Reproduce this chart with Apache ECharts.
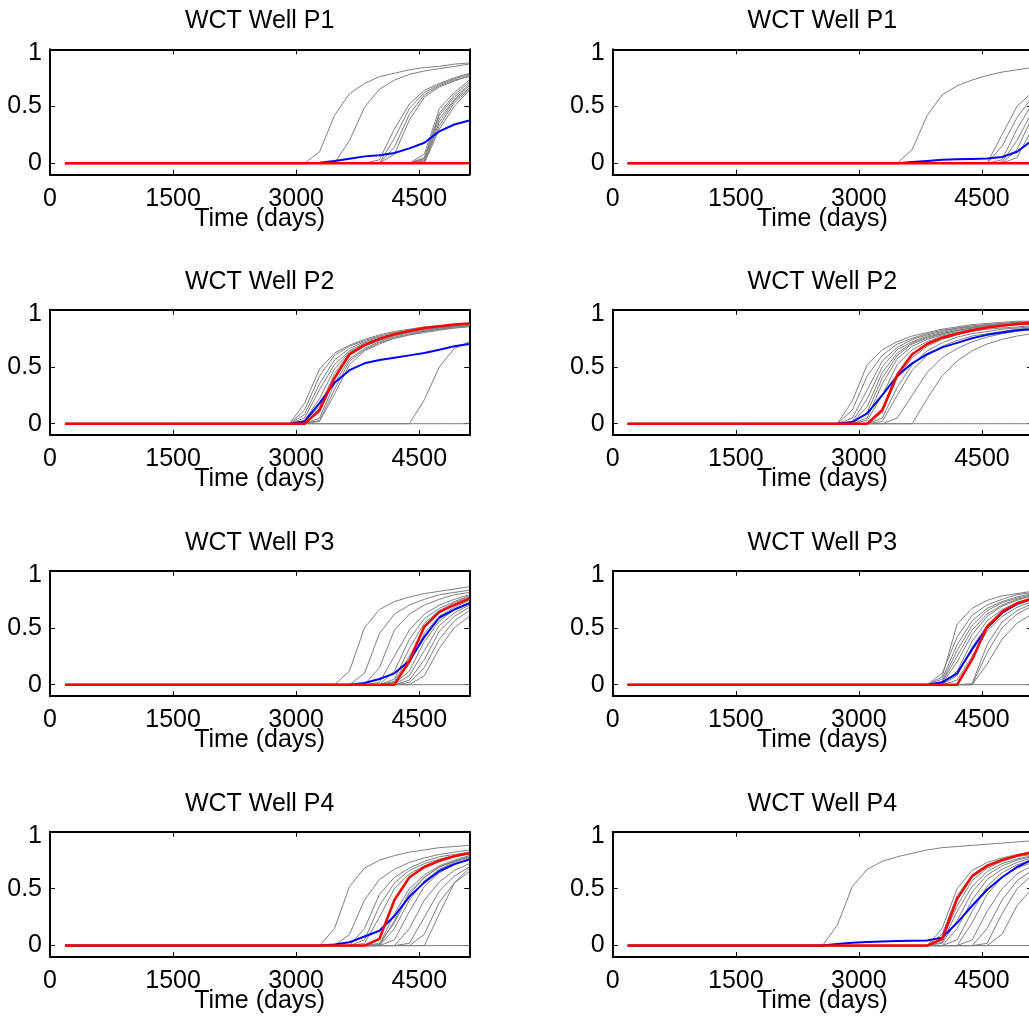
<!DOCTYPE html>
<html>
<head>
<meta charset="utf-8">
<title>WCT wells</title>
<script src="https://cdn.jsdelivr.net/npm/echarts@6/dist/echarts.min.js"></script>
<style>
  html, body { margin: 0; padding: 0; background: #ffffff; }
  #chart { width: 1029px; height: 1021px; }
</style>
</head>
<body>
<div id="chart"></div>
<script>
// Report times in days (half-year steps)
const timeDays = [182.5, 365, 547.5, 730, 912.5, 1095, 1277.5, 1460, 1642.5, 1825,
  2007.5, 2190, 2372.5, 2555, 2737.5, 2920, 3102.5, 3285, 3467.5, 3650,
  3832.5, 4015, 4197.5, 4380, 4562.5, 4745, 4927.5, 5110];
const xTicks = [0, 1500, 3000, 4500];
const yTicks = [0, 0.5, 1];
const wellTitles = ['WCT Well P1', 'WCT Well P2', 'WCT Well P3', 'WCT Well P4'];
const xName = 'Time (days)';

// ---- Left column, well P1 ----
const leftP1Gray = [
  [0,0,0,0,0, 0,0,0,0,0, 0,0,0,0,0, 0,0, .10,.42,.61,.70,.76,.79,.82,.84,.85,.87,.88],
  [0,0,0,0,0, 0,0,0,0,0, 0,0,0,0,0, 0,0,0,0, .20,.49,.65,.73,.78,.81,.83,.85,.87],
  [0,0,0,0,0, 0,0,0,0,0, 0,0,0,0,0, 0,0,0,0,0, 0,0, .22,.48,.62,.69,.74,.78],
  [0,0,0,0,0, 0,0,0,0,0, 0,0,0,0,0, 0,0,0,0,0, 0, .03,.30,.52,.64,.70,.75,.79],
  [0,0,0,0,0, 0,0,0,0,0, 0,0,0,0,0, 0,0,0,0,0, 0,0, .08,.38,.58,.67,.72,.77],
  [0,0,0,0,0, 0,0,0,0,0, 0,0,0,0,0, 0,0,0,0,0, 0,0, .14,.43,.60,.68,.73,.76],
  [0,0,0,0,0, 0,0,0,0,0, 0,0,0,0,0, 0,0,0,0,0, 0,0,0,0, .08,.48,.62,.73],
  [0,0,0,0,0, 0,0,0,0,0, 0,0,0,0,0, 0,0,0,0,0, 0,0,0,0, .05,.44,.60,.71],
  [0,0,0,0,0, 0,0,0,0,0, 0,0,0,0,0, 0,0,0,0,0, 0,0,0,0, .04,.42,.58,.69],
  [0,0,0,0,0, 0,0,0,0,0, 0,0,0,0,0, 0,0,0,0,0, 0,0,0,0, .03,.39,.56,.68],
  [0,0,0,0,0, 0,0,0,0,0, 0,0,0,0,0, 0,0,0,0,0, 0,0,0,0, .02,.36,.55,.66],
  [0,0,0,0,0, 0,0,0,0,0, 0,0,0,0,0, 0,0,0,0,0, 0,0,0,0, .01,.33,.53,.65],
  [0,0,0,0,0, 0,0,0,0,0, 0,0,0,0,0, 0,0,0,0,0, 0,0,0,0,0, .30,.50,.64],
  [0,0,0,0,0, 0,0,0,0,0, 0,0,0,0,0, 0,0,0,0,0, 0,0,0,0,0, 0,0,0]
];
const leftP1Blue = [0,0,0,0,0, 0,0,0,0,0, 0,0,0,0,0, 0,0, .005,.02,.04,.06,.07,.09,.13,.18,.28,.34,.375];
const leftP1Red  = [0,0,0,0,0, 0,0,0,0,0, 0,0,0,0,0, 0,0,0,0,0, 0,0,0,0,0, 0,0,0];

// ---- Right column, well P1 ----
const rightP1Gray = [
  [0,0,0,0,0, 0,0,0,0,0, 0,0,0,0,0, 0,0,0,0, .12,.42,.60,.68,.73,.77,.80,.82,.84],
  [0,0,0,0,0, 0,0,0,0,0, 0,0,0,0,0, 0,0,0,0,0, 0,0,0,0,0, .25,.50,.62],
  [0,0,0,0,0, 0,0,0,0,0, 0,0,0,0,0, 0,0,0,0,0, 0,0,0,0,0, .15,.40,.58],
  [0,0,0,0,0, 0,0,0,0,0, 0,0,0,0,0, 0,0,0,0,0, 0,0,0,0,0, .03,.30,.52],
  [0,0,0,0,0, 0,0,0,0,0, 0,0,0,0,0, 0,0,0,0,0, 0,0,0,0,0, .01,.20,.45],
  [0,0,0,0,0, 0,0,0,0,0, 0,0,0,0,0, 0,0,0,0,0, 0,0,0,0,0, 0, .12,.40],
  [0,0,0,0,0, 0,0,0,0,0, 0,0,0,0,0, 0,0,0,0,0, 0,0,0,0,0, 0, .05,.30],
  [0,0,0,0,0, 0,0,0,0,0, 0,0,0,0,0, 0,0,0,0,0, 0,0,0,0,0, 0,0,0]
];
const rightP1Blue = [0,0,0,0,0, 0,0,0,0,0, 0,0,0,0,0, 0,0,0,0, .01,.02,.03,.035,.038,.042,.055,.10,.20];
const rightP1Red  = [0,0,0,0,0, 0,0,0,0,0, 0,0,0,0,0, 0,0,0,0,0, 0,0,0,0,0, 0,0,0];

// ---- Left column, well P2 ----
const leftP2Gray = [
  [0,0,0,0,0, 0,0,0,0,0, 0,0,0,0,0, 0, .18,.48,.62,.69,.74,.78,.81,.83,.85,.86,.87,.88],
  [0,0,0,0,0, 0,0,0,0,0, 0,0,0,0,0, 0, .12,.42,.60,.68,.73,.77,.80,.82,.84,.86,.87,.88],
  [0,0,0,0,0, 0,0,0,0,0, 0,0,0,0,0, 0, .08,.35,.56,.66,.72,.76,.79,.82,.84,.85,.86,.87],
  [0,0,0,0,0, 0,0,0,0,0, 0,0,0,0,0, 0, .05,.30,.52,.64,.71,.75,.79,.81,.83,.85,.86,.87],
  [0,0,0,0,0, 0,0,0,0,0, 0,0,0,0,0, 0, .03,.22,.48,.63,.70,.75,.78,.81,.83,.84,.86,.87],
  [0,0,0,0,0, 0,0,0,0,0, 0,0,0,0,0, 0, .02,.15,.44,.62,.69,.74,.78,.80,.82,.84,.85,.87],
  [0,0,0,0,0, 0,0,0,0,0, 0,0,0,0,0, 0, .01,.10,.40,.60,.68,.73,.77,.80,.82,.84,.85,.86],
  [0,0,0,0,0, 0,0,0,0,0, 0,0,0,0,0, 0,0, .05,.35,.57,.66,.72,.76,.79,.81,.83,.85,.86],
  [0,0,0,0,0, 0,0,0,0,0, 0,0,0,0,0, 0,0, .03,.30,.55,.65,.71,.75,.78,.81,.83,.84,.86],
  [0,0,0,0,0, 0,0,0,0,0, 0,0,0,0,0, 0,0, .02,.26,.52,.64,.70,.75,.78,.80,.82,.84,.85],
  [0,0,0,0,0, 0,0,0,0,0, 0,0,0,0,0, 0,0,0,0,0, 0,0,0,0, .21,.50,.66,.72],
  [0,0,0,0,0, 0,0,0,0,0, 0,0,0,0,0, 0,0,0,0,0, 0,0,0,0,0, 0,0,0]
];
const leftP2Blue = [0,0,0,0,0, 0,0,0,0,0, 0,0,0,0,0, 0, .02,.18,.36,.47,.53,.56,.58,.60,.62,.65,.68,.70];
const leftP2Red  = [0,0,0,0,0, 0,0,0,0,0, 0,0,0,0,0, 0,0, .12,.40,.61,.69,.745,.785,.815,.84,.855,.87,.88];

// ---- Right column, well P2 ----
const rightP2Gray = [
  [0,0,0,0,0, 0,0,0,0,0, 0,0,0,0,0, .20,.52,.65,.72,.77,.80,.83,.85,.87,.88,.89,.90,.90],
  [0,0,0,0,0, 0,0,0,0,0, 0,0,0,0,0, .12,.42,.60,.70,.75,.79,.82,.84,.86,.87,.88,.89,.90],
  [0,0,0,0,0, 0,0,0,0,0, 0,0,0,0,0, .05,.30,.55,.67,.74,.78,.81,.84,.85,.87,.88,.89,.89],
  [0,0,0,0,0, 0,0,0,0,0, 0,0,0,0,0, .02,.22,.50,.65,.72,.77,.80,.83,.85,.86,.87,.88,.89],
  [0,0,0,0,0, 0,0,0,0,0, 0,0,0,0,0, .01,.15,.45,.62,.71,.76,.79,.82,.84,.86,.87,.88,.88],
  [0,0,0,0,0, 0,0,0,0,0, 0,0,0,0,0, 0, .10,.40,.60,.70,.75,.79,.82,.84,.85,.87,.88,.88],
  [0,0,0,0,0, 0,0,0,0,0, 0,0,0,0,0, 0, .05,.35,.57,.68,.74,.78,.81,.83,.85,.86,.87,.88],
  [0,0,0,0,0, 0,0,0,0,0, 0,0,0,0,0, 0, .03,.25,.52,.65,.72,.77,.80,.82,.84,.86,.87,.87],
  [0,0,0,0,0, 0,0,0,0,0, 0,0,0,0,0, 0,0, .10,.40,.58,.68,.74,.78,.81,.83,.84,.85,.86],
  [0,0,0,0,0, 0,0,0,0,0, 0,0,0,0,0, 0,0, .05,.32,.52,.64,.71,.76,.79,.81,.83,.84,.85],
  [0,0,0,0,0, 0,0,0,0,0, 0,0,0,0,0, 0,0, .02,.25,.47,.60,.68,.73,.77,.79,.81,.83,.84],
  [0,0,0,0,0, 0,0,0,0,0, 0,0,0,0,0, 0,0,0, .05,.25,.45,.58,.66,.72,.76,.79,.81,.83],
  [0,0,0,0,0, 0,0,0,0,0, 0,0,0,0,0, 0,0,0,0,0, .22,.42,.55,.64,.70,.74,.77,.79],
  [0,0,0,0,0, 0,0,0,0,0, 0,0,0,0,0, 0,0,0,0,0, 0,0,0,0,0, 0,0,0]
];
const rightP2Blue = [0,0,0,0,0, 0,0,0,0,0, 0,0,0,0,0, .015,.09,.25,.42,.53,.61,.67,.71,.75,.78,.80,.82,.83];
const rightP2Red  = [0,0,0,0,0, 0,0,0,0,0, 0,0,0,0,0, 0,0, .12,.43,.61,.70,.755,.79,.82,.845,.86,.875,.885];

// ---- Left column, well P3 ----
const leftP3Gray = [
  [0,0,0,0,0, 0,0,0,0,0, 0,0,0,0,0, 0,0,0,0, .12,.50,.66,.73,.77,.80,.82,.84,.86],
  [0,0,0,0,0, 0,0,0,0,0, 0,0,0,0,0, 0,0,0,0,0, .10,.45,.62,.70,.75,.79,.81,.83],
  [0,0,0,0,0, 0,0,0,0,0, 0,0,0,0,0, 0,0,0,0,0, 0, .15,.48,.62,.70,.75,.79,.81],
  [0,0,0,0,0, 0,0,0,0,0, 0,0,0,0,0, 0,0,0,0,0, 0, .02,.25,.48,.62,.70,.75,.79],
  [0,0,0,0,0, 0,0,0,0,0, 0,0,0,0,0, 0,0,0,0,0, 0,0, .12,.40,.58,.67,.73,.78],
  [0,0,0,0,0, 0,0,0,0,0, 0,0,0,0,0, 0,0,0,0,0, 0,0, .05,.32,.54,.65,.72,.77],
  [0,0,0,0,0, 0,0,0,0,0, 0,0,0,0,0, 0,0,0,0,0, 0,0, .03,.25,.50,.63,.70,.75],
  [0,0,0,0,0, 0,0,0,0,0, 0,0,0,0,0, 0,0,0,0,0, 0,0, .02,.18,.45,.60,.68,.74],
  [0,0,0,0,0, 0,0,0,0,0, 0,0,0,0,0, 0,0,0,0,0, 0,0, .01,.12,.38,.56,.66,.72],
  [0,0,0,0,0, 0,0,0,0,0, 0,0,0,0,0, 0,0,0,0,0, 0,0,0, .08,.30,.52,.63,.70],
  [0,0,0,0,0, 0,0,0,0,0, 0,0,0,0,0, 0,0,0,0,0, 0,0,0, .04,.22,.47,.60,.68],
  [0,0,0,0,0, 0,0,0,0,0, 0,0,0,0,0, 0,0,0,0,0, 0,0,0, .02,.15,.40,.56,.65],
  [0,0,0,0,0, 0,0,0,0,0, 0,0,0,0,0, 0,0,0,0,0, 0,0,0,0, .08,.32,.50,.60],
  [0,0,0,0,0, 0,0,0,0,0, 0,0,0,0,0, 0,0,0,0,0, 0,0,0,0,0, 0,0,0]
];
const leftP3Blue = [0,0,0,0,0, 0,0,0,0,0, 0,0,0,0,0, 0,0,0,0,0, .015,.05,.10,.21,.42,.59,.66,.715];
const leftP3Red  = [0,0,0,0,0, 0,0,0,0,0, 0,0,0,0,0, 0,0,0,0,0, 0,0,0, .21,.51,.64,.70,.755];

// ---- Right column, well P3 ----
const rightP3Gray = [
  [0,0,0,0,0, 0,0,0,0,0, 0,0,0,0,0, 0,0,0,0,0, 0, .07,.53,.67,.74,.78,.80,.82],
  [0,0,0,0,0, 0,0,0,0,0, 0,0,0,0,0, 0,0,0,0,0, 0, .10,.42,.61,.70,.75,.79,.81],
  [0,0,0,0,0, 0,0,0,0,0, 0,0,0,0,0, 0,0,0,0,0, 0, .05,.35,.56,.67,.73,.77,.80],
  [0,0,0,0,0, 0,0,0,0,0, 0,0,0,0,0, 0,0,0,0,0, 0, .03,.30,.52,.65,.72,.76,.79],
  [0,0,0,0,0, 0,0,0,0,0, 0,0,0,0,0, 0,0,0,0,0, 0, .02,.25,.48,.62,.70,.75,.78],
  [0,0,0,0,0, 0,0,0,0,0, 0,0,0,0,0, 0,0,0,0,0, 0, .01,.20,.44,.60,.69,.74,.78],
  [0,0,0,0,0, 0,0,0,0,0, 0,0,0,0,0, 0,0,0,0,0, 0,0, .12,.38,.56,.66,.72,.76],
  [0,0,0,0,0, 0,0,0,0,0, 0,0,0,0,0, 0,0,0,0,0, 0,0, .08,.33,.52,.64,.70,.75],
  [0,0,0,0,0, 0,0,0,0,0, 0,0,0,0,0, 0,0,0,0,0, 0,0, .04,.25,.47,.60,.68,.73],
  [0,0,0,0,0, 0,0,0,0,0, 0,0,0,0,0, 0,0,0,0,0, 0,0,0, .01,.35,.55,.65,.71],
  [0,0,0,0,0, 0,0,0,0,0, 0,0,0,0,0, 0,0,0,0,0, 0,0,0,0, .28,.50,.62,.69],
  [0,0,0,0,0, 0,0,0,0,0, 0,0,0,0,0, 0,0,0,0,0, 0,0,0,0, .18,.40,.54,.62],
  [0,0,0,0,0, 0,0,0,0,0, 0,0,0,0,0, 0,0,0,0,0, 0,0,0,0,0, 0,0,0]
];
const rightP3Blue = [0,0,0,0,0, 0,0,0,0,0, 0,0,0,0,0, 0,0,0,0,0, 0, .02,.10,.31,.50,.63,.71,.755];
const rightP3Red  = [0,0,0,0,0, 0,0,0,0,0, 0,0,0,0,0, 0,0,0,0,0, 0,0,0, .22,.51,.64,.715,.755];

// ---- Left column, well P4 ----
const leftP4Gray = [
  [0,0,0,0,0, 0,0,0,0,0, 0,0,0,0,0, 0,0,0, .15,.52,.68,.75,.79,.82,.84,.86,.87,.88],
  [0,0,0,0,0, 0,0,0,0,0, 0,0,0,0,0, 0,0,0,0, .10,.40,.58,.67,.73,.77,.80,.82,.84],
  [0,0,0,0,0, 0,0,0,0,0, 0,0,0,0,0, 0,0,0,0,0, .15,.45,.60,.68,.74,.78,.80,.82],
  [0,0,0,0,0, 0,0,0,0,0, 0,0,0,0,0, 0,0,0,0,0, .05,.35,.55,.66,.72,.76,.79,.82],
  [0,0,0,0,0, 0,0,0,0,0, 0,0,0,0,0, 0,0,0,0,0, .02,.25,.50,.63,.70,.75,.79,.81],
  [0,0,0,0,0, 0,0,0,0,0, 0,0,0,0,0, 0,0,0,0,0, 0, .02,.20,.45,.60,.69,.74,.78],
  [0,0,0,0,0, 0,0,0,0,0, 0,0,0,0,0, 0,0,0,0,0, 0, .01,.28,.50,.62,.70,.75,.79],
  [0,0,0,0,0, 0,0,0,0,0, 0,0,0,0,0, 0,0,0,0,0, 0,0, .22,.47,.60,.69,.74,.78],
  [0,0,0,0,0, 0,0,0,0,0, 0,0,0,0,0, 0,0,0,0,0, 0,0, .15,.40,.57,.67,.73,.77],
  [0,0,0,0,0, 0,0,0,0,0, 0,0,0,0,0, 0,0,0,0,0, 0,0, .05,.30,.52,.64,.71,.76],
  [0,0,0,0,0, 0,0,0,0,0, 0,0,0,0,0, 0,0,0,0,0, 0,0,0, .15,.40,.56,.66,.72],
  [0,0,0,0,0, 0,0,0,0,0, 0,0,0,0,0, 0,0,0,0,0, 0,0,0, .02,.25,.48,.61,.69],
  [0,0,0,0,0, 0,0,0,0,0, 0,0,0,0,0, 0,0,0,0,0, 0,0,0,0, .10,.38,.55,.65],
  [0,0,0,0,0, 0,0,0,0,0, 0,0,0,0,0, 0,0,0,0,0, 0,0,0,0,0, .28,.55,.68],
  [0,0,0,0,0, 0,0,0,0,0, 0,0,0,0,0, 0,0,0,0,0, 0,0,0,0,0, 0,0,0]
];
const leftP4Blue = [0,0,0,0,0, 0,0,0,0,0, 0,0,0,0,0, 0,0,0, .01,.03,.08,.13,.26,.43,.555,.655,.715,.755];
const leftP4Red  = [0,0,0,0,0, 0,0,0,0,0, 0,0,0,0,0, 0,0,0,0,0, 0, .06,.40,.60,.69,.745,.785,.81];

// ---- Right column, well P4 ----
const rightP4Gray = [
  [0,0,0,0,0, 0,0,0,0,0, 0,0,0,0, .18,.52,.67,.74,.78,.81,.84,.86,.87,.88,.89,.90,.91,.92],
  [0,0,0,0,0, 0,0,0,0,0, 0,0,0,0,0, 0,0,0,0,0, 0, .15,.50,.66,.73,.77,.80,.82],
  [0,0,0,0,0, 0,0,0,0,0, 0,0,0,0,0, 0,0,0,0,0, 0, .10,.44,.62,.71,.76,.79,.81],
  [0,0,0,0,0, 0,0,0,0,0, 0,0,0,0,0, 0,0,0,0,0, 0, .05,.35,.57,.68,.74,.78,.80],
  [0,0,0,0,0, 0,0,0,0,0, 0,0,0,0,0, 0,0,0,0,0, 0, .03,.30,.52,.65,.72,.76,.79],
  [0,0,0,0,0, 0,0,0,0,0, 0,0,0,0,0, 0,0,0,0,0, 0, .02,.22,.47,.62,.70,.75,.78],
  [0,0,0,0,0, 0,0,0,0,0, 0,0,0,0,0, 0,0,0,0,0, 0,0, .15,.40,.58,.67,.73,.77],
  [0,0,0,0,0, 0,0,0,0,0, 0,0,0,0,0, 0,0,0,0,0, 0,0, .05,.30,.52,.64,.71,.75],
  [0,0,0,0,0, 0,0,0,0,0, 0,0,0,0,0, 0,0,0,0,0, 0,0,0, .20,.45,.60,.68,.73],
  [0,0,0,0,0, 0,0,0,0,0, 0,0,0,0,0, 0,0,0,0,0, 0,0,0, .05,.30,.50,.63,.70],
  [0,0,0,0,0, 0,0,0,0,0, 0,0,0,0,0, 0,0,0,0,0, 0,0,0,0, .15,.40,.57,.66],
  [0,0,0,0,0, 0,0,0,0,0, 0,0,0,0,0, 0,0,0,0,0, 0,0,0,0, .02,.28,.50,.62],
  [0,0,0,0,0, 0,0,0,0,0, 0,0,0,0,0, 0,0,0,0,0, 0,0,0,0,0, .10,.35,.50],
  [0,0,0,0,0, 0,0,0,0,0, 0,0,0,0,0, 0,0,0,0,0, 0,0,0,0,0, 0,0,0]
];
const rightP4Blue = [0,0,0,0,0, 0,0,0,0,0, 0,0,0,0, .015,.025,.032,.036,.04,.042,.045,.07,.20,.35,.49,.60,.69,.755];
const rightP4Red  = [0,0,0,0,0, 0,0,0,0,0, 0,0,0,0,0, 0,0,0,0,0, 0, .06,.41,.61,.70,.75,.79,.82];

// Panel list: column 0 = left, column 1 = right; rows are wells P1..P4
const panels = [
  { col: 0, row: 0, gray: leftP1Gray,  blue: leftP1Blue,  red: leftP1Red },
  { col: 1, row: 0, gray: rightP1Gray, blue: rightP1Blue, red: rightP1Red },
  { col: 0, row: 1, gray: leftP2Gray,  blue: leftP2Blue,  red: leftP2Red },
  { col: 1, row: 1, gray: rightP2Gray, blue: rightP2Blue, red: rightP2Red },
  { col: 0, row: 2, gray: leftP3Gray,  blue: leftP3Blue,  red: leftP3Red },
  { col: 1, row: 2, gray: rightP3Gray, blue: rightP3Blue, red: rightP3Red },
  { col: 0, row: 3, gray: leftP4Gray,  blue: leftP4Blue,  red: leftP4Red },
  { col: 1, row: 3, gray: rightP4Gray, blue: rightP4Blue, red: rightP4Red }
];

// Every curve must have one value per report time
panels.forEach((p, i) => {
  [...p.gray, p.blue, p.red].forEach((arr, j) => {
    if (arr.length !== timeDays.length) {
      throw new Error('panel ' + i + ' curve ' + j + ' has ' + arr.length + ' values');
    }
  });
});

// Layout (pixels)
const colLeft = [50, 612.7];
const rowTop = [49.3, 309.8, 570.8, 831.7];
const boxW = 419.3;
const boxH = 125.3;
const FONT = '"Liberation Sans", Arial, Helvetica, sans-serif';
const FS = 25;

const grid = [], xAxis = [], yAxis = [], series = [], graphic = [];

function lineSeries(values, color, width, axisIdx) {
  return {
    type: 'line',
    xAxisIndex: axisIdx,
    yAxisIndex: axisIdx,
    data: timeDays.map((t, k) => [t, values[k]]),
    symbol: 'none',
    showSymbol: false,
    silent: true,
    animation: false,
    clip: true,
    lineStyle: { color: color, width: width, cap: 'butt', join: 'round' },
    emphasis: { disabled: true }
  };
}

panels.forEach((p, i) => {
  const left = colLeft[p.col];
  const top = rowTop[p.row];
  grid.push({ left: left, top: top, width: boxW, height: boxH, outerBoundsMode: 'none', containLabel: false });

  const axisLine = { show: true, onZero: false, lineStyle: { color: '#000', width: 2 } };
  const tickBase = { show: true, inside: true, length: 5, lineStyle: { color: '#000', width: 1 } };
  const labelBase = { color: '#000', fontSize: FS, fontFamily: FONT };

  // bottom and top x axes
  xAxis.push({
    gridIndex: i, type: 'value', min: 0, max: 5110, position: 'bottom',
    axisLine: axisLine,
    axisTick: Object.assign({ customValues: xTicks }, tickBase),
    axisLabel: Object.assign({ customValues: xTicks, margin: 12, formatter: v => String(v) }, labelBase),
    splitLine: { show: false },
    name: xName, nameLocation: 'middle', nameGap: 32, nameMoveOverlap: false,
    nameTextStyle: labelBase
  });
  xAxis.push({
    gridIndex: i, type: 'value', min: 0, max: 5110, position: 'top',
    axisLine: axisLine,
    axisTick: Object.assign({ customValues: xTicks }, tickBase),
    axisLabel: { show: false },
    splitLine: { show: false }
  });
  // left and right y axes; the top label sits a little below its tick
  yAxis.push({
    gridIndex: i, type: 'value', min: -0.1, max: 1, position: 'left',
    axisLine: axisLine,
    axisTick: Object.assign({ customValues: yTicks }, tickBase),
    axisLabel: Object.assign({
      customValues: yTicks, margin: 8,
      formatter: v => (v === 1 ? '{top|1}' : String(v)),
      rich: { top: { fontSize: FS, fontFamily: FONT, color: '#000', padding: [8, 0, 0, 0] } }
    }, labelBase),
    splitLine: { show: false }
  });
  yAxis.push({
    gridIndex: i, type: 'value', min: -0.1, max: 1, position: 'right',
    axisLine: axisLine,
    axisTick: Object.assign({ customValues: yTicks }, tickBase),
    axisLabel: { show: false },
    splitLine: { show: false }
  });

  const axisIdx = 2 * i;
  p.gray.forEach(v => series.push(lineSeries(v, '#808080', 1, axisIdx)));
  series.push(lineSeries(p.blue, '#0000ff', 2, axisIdx));
  series.push(lineSeries(p.red, '#ff0000', 2.5, axisIdx));

  graphic.push({
    type: 'text', silent: true,
    x: left + boxW / 2, y: top - 28,
    style: { text: wellTitles[p.row], fill: '#000', font: FS + 'px ' + FONT, align: 'center', verticalAlign: 'middle' }
  });
});

const chart = echarts.init(document.getElementById('chart'), null, { renderer: 'canvas' });
chart.setOption({
  animation: false,
  backgroundColor: '#ffffff',
  grid: grid,
  xAxis: xAxis,
  yAxis: yAxis,
  series: series,
  graphic: graphic
});
</script>
</body>
</html>
